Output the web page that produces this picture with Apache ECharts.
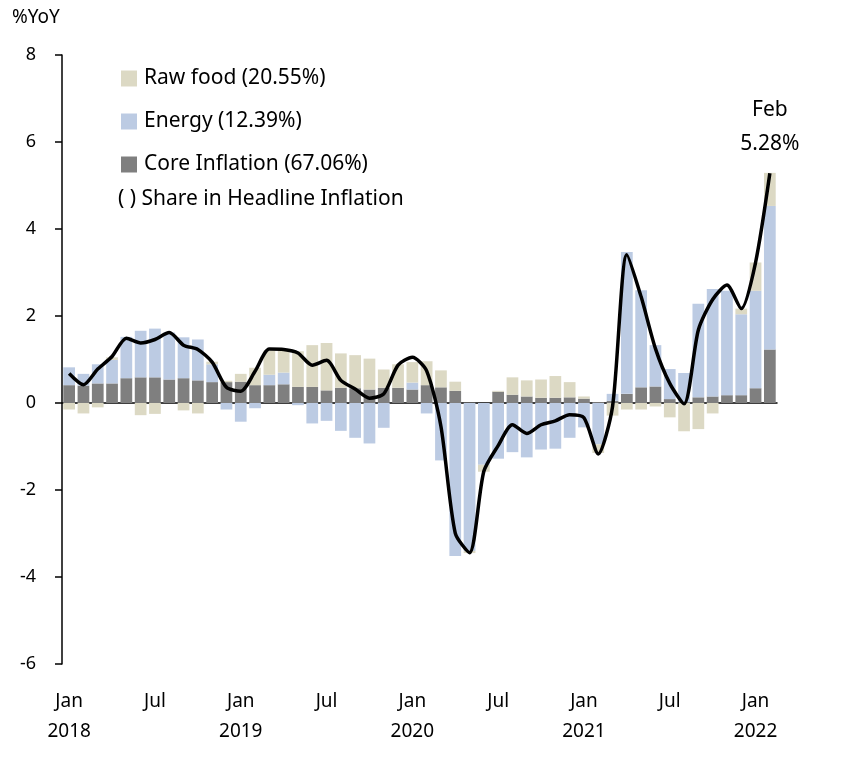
<!DOCTYPE html>
<html>
<head>
<meta charset="utf-8">
<title>Headline inflation contributions</title>
<script src="https://cdn.jsdelivr.net/npm/echarts@6/dist/echarts.min.js"></script>
<style>
  html, body { margin: 0; padding: 0; background: #fff; }
  #chart { width: 844px; height: 758px; }
</style>
</head>
<body>
<div id="chart"></div>
<script>
// months shown on the category axis, Jan 2018 .. Feb 2022
const months = [
  '2018-01', '2018-02', '2018-03', '2018-04', '2018-05', '2018-06',
  '2018-07', '2018-08', '2018-09', '2018-10', '2018-11', '2018-12',
  '2019-01', '2019-02', '2019-03', '2019-04', '2019-05', '2019-06',
  '2019-07', '2019-08', '2019-09', '2019-10', '2019-11', '2019-12',
  '2020-01', '2020-02', '2020-03', '2020-04', '2020-05', '2020-06',
  '2020-07', '2020-08', '2020-09', '2020-10', '2020-11', '2020-12',
  '2021-01', '2021-02', '2021-03', '2021-04', '2021-05', '2021-06',
  '2021-07', '2021-08', '2021-09', '2021-10', '2021-11', '2021-12',
  '2022-01', '2022-02'
];
const monthNames = ['Jan', 'Feb', 'Mar', 'Apr', 'May', 'Jun', 'Jul', 'Aug', 'Sep', 'Oct', 'Nov', 'Dec'];

// contributions to headline inflation, %pt
const coreInflation = [
  0.41, 0.40, 0.45, 0.45, 0.57, 0.59, 0.59, 0.54, 0.57, 0.52, 0.48, 0.48,
  0.49, 0.41, 0.41, 0.43, 0.37, 0.37, 0.29, 0.35, 0.34, 0.31, 0.35, 0.35,
  0.31, 0.41, 0.36, 0.28, 0.01, 0.00, 0.26, 0.19, 0.15, 0.12, 0.12, 0.13,
  0.10, 0.02, 0.05, 0.21, 0.36, 0.38, 0.09, 0.02, 0.13, 0.15, 0.18, 0.18,
  0.34, 1.23
];
const energy = [
  0.41, 0.27, 0.44, 0.54, 0.95, 1.07, 1.12, 1.08, 0.94, 0.94, 0.41, -0.15,
  -0.43, -0.12, 0.24, 0.27, -0.05, -0.47, -0.41, -0.64, -0.80, -0.93, -0.57, 0.00,
  0.16, -0.24, -1.32, -3.52, -3.40, -1.42, -1.28, -1.13, -1.25, -1.07, -1.05, -0.80,
  -0.56, -0.95, 0.16, 3.26, 2.23, 0.95, 0.69, 0.67, 2.15, 2.47, 2.40, 1.86,
  2.24, 3.30
];
const rawFood = [
  -0.15, -0.24, -0.10, 0.06, 0.00, -0.28, -0.25, 0.00, -0.17, -0.24, 0.06, 0.03,
  0.18, 0.40, 0.55, 0.53, 0.82, 0.96, 1.09, 0.79, 0.76, 0.71, 0.42, 0.54,
  0.47, 0.55, 0.39, 0.21, -0.05, -0.16, 0.02, 0.40, 0.37, 0.42, 0.50, 0.35,
  0.05, -0.20, -0.29, -0.15, -0.15, -0.08, -0.33, -0.65, -0.60, -0.24, 0.00, 0.13,
  0.65, 0.76
];
// headline inflation, %YoY
const headline = [
  0.68, 0.42, 0.78, 1.07, 1.49, 1.38, 1.46, 1.62, 1.33, 1.23, 0.94, 0.36,
  0.27, 0.73, 1.24, 1.23, 1.15, 0.87, 0.98, 0.52, 0.32, 0.11, 0.21, 0.87,
  1.05, 0.74, -0.54, -2.99, -3.44, -1.57, -0.98, -0.50, -0.70, -0.50, -0.41, -0.27,
  -0.34, -1.17, -0.08, 3.41, 2.44, 1.25, 0.45, -0.02, 1.68, 2.38, 2.71, 2.17,
  3.23, 5.28
];

const seriesNames = {
  rawFood: 'Raw food (20.55%)',
  energy: 'Energy (12.39%)',
  core: 'Core Inflation (67.06%)'
};
const colors = {rawFood: '#dcd9c4', energy: '#bccbe3', core: '#7f7f7f', line: '#000'};
const fontFamily = '"Noto Sans", sans-serif';

function monthLabel(value) {
  const [year, m] = value.split('-');
  const name = monthNames[Number(m) - 1];
  if (name === 'Jan') return 'Jan\n' + year;
  if (name === 'Jul') return 'Jul';
  return '';
}

const lastIndex = headline.length - 1;
const lastMonthName = monthNames[Number(months[lastIndex].split('-')[1]) - 1];

const chart = echarts.init(document.getElementById('chart'), null, {renderer: 'canvas'});

chart.setOption({
  backgroundColor: '#fff',
  animation: false,
  textStyle: {fontFamily, color: '#000'},
  grid: {left: 62, right: 67, top: 55, bottom: 94},
  legend: {
    data: [seriesNames.rawFood, seriesNames.energy, seriesNames.core],
    orient: 'vertical',
    left: 116,
    top: 63,
    itemWidth: 16,
    itemHeight: 16,
    itemGap: 22,
    icon: 'rect',
    selectedMode: false,
    textStyle: {fontSize: 21, lineHeight: 20, color: '#000', fontFamily, padding: [0, 0, 0, 2]}
  },
  graphic: [
    {type: 'text', left: 12, top: 8, style: {text: '%YoY', fontSize: 19, fill: '#000', fontFamily}},
    {type: 'text', left: 118, top: 189, style: {text: '( ) Share in Headline Inflation', fontSize: 21, fill: '#000', fontFamily}}
  ],
  xAxis: [
    {
      type: 'category',
      data: months,
      boundaryGap: true,
      axisLine: {onZero: true, lineStyle: {color: '#000', width: 1.5}},
      axisTick: {interval: i => i % 3 === 0, length: 7, lineStyle: {color: '#000', width: 1.5}},
      axisLabel: {show: false},
      splitLine: {show: false}
    },
    {
      type: 'category',
      data: months,
      position: 'bottom',
      boundaryGap: true,
      axisLine: {show: false, onZero: false},
      axisTick: {show: false},
      axisLabel: {
        interval: 0,
        formatter: monthLabel,
        margin: 23,
        fontSize: 19,
        lineHeight: 30,
        color: '#000',
        fontFamily
      },
      splitLine: {show: false}
    }
  ],
  yAxis: {
    type: 'value',
    min: -6,
    max: 8,
    interval: 2,
    axisLine: {show: true, lineStyle: {color: '#000', width: 1.5}},
    axisTick: {show: true, length: 7, lineStyle: {color: '#000', width: 1.5}},
    axisLabel: {fontSize: 18, margin: 26, color: '#000', fontFamily},
    splitLine: {show: false}
  },
  series: [
    {
      name: seriesNames.core,
      type: 'bar',
      stack: 'contrib',
      data: coreInflation,
      barCategoryGap: '18%',
      itemStyle: {color: colors.core}
    },
    {
      name: seriesNames.energy,
      type: 'bar',
      stack: 'contrib',
      data: energy,
      itemStyle: {color: colors.energy}
    },
    {
      name: seriesNames.rawFood,
      type: 'bar',
      stack: 'contrib',
      data: rawFood,
      itemStyle: {color: colors.rawFood}
    },
    {
      name: 'Headline',
      type: 'line',
      data: headline,
      smooth: 0.25,
      symbol: 'none',
      z: 5,
      lineStyle: {color: colors.line, width: 3.5},
      markPoint: {
        symbol: 'circle',
        symbolSize: 0,
        silent: true,
        data: [{coord: [months[lastIndex], headline[lastIndex]]}],
        label: {
          show: true,
          position: 'top',
          distance: 12,
          formatter: lastMonthName + '\n' + headline[lastIndex].toFixed(2) + '%',
          fontSize: 21,
          lineHeight: 34,
          color: '#000',
          fontFamily
        }
      }
    }
  ]
});
</script>
</body>
</html>
